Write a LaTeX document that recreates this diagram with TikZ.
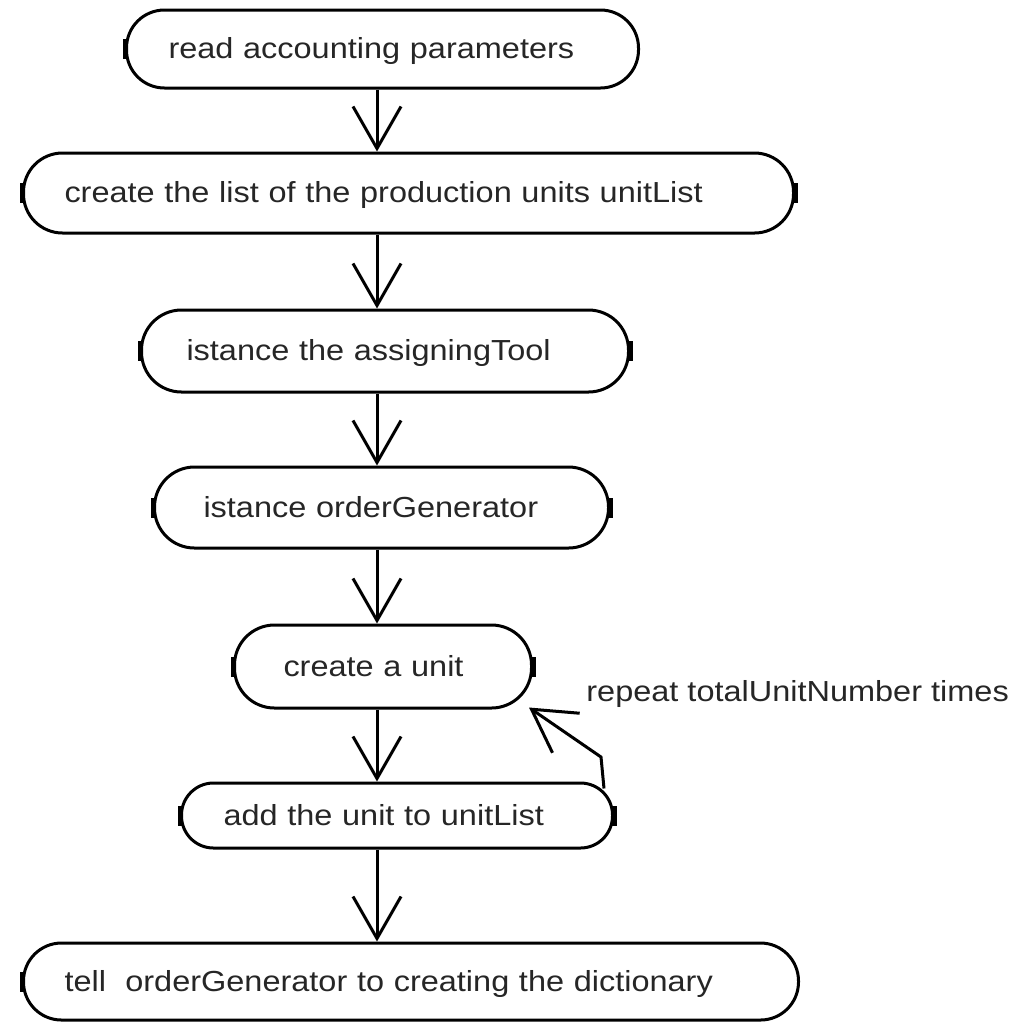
\documentclass[tikz,border=0pt]{standalone}
\usepackage{fontspec}
\setmainfont{Liberation Sans}[FakeStretch=1.12]
\usetikzlibrary{arrows.meta}
\begin{document}
\begin{tikzpicture}[x=1pt,y=-1pt,
  activity/.style={draw, line width=1.5pt, rectangle, align=left, inner ysep=0pt,
    text height=12pt, text depth=2.4pt,
    anchor=west, font=\fontsize{14.5}{17}\selectfont, text=black!85},
  flow/.style={line width=1.5pt, -{Straight Barb[length=21pt,width=24pt]}},
  edgemark/.style={fill=black},
  note/.style={anchor=west, inner sep=0pt, font=\fontsize{14.5}{17}\selectfont, text=black!85}]
\fill[white] (0,0) rectangle (516,512);
\useasboundingbox (0,0) rectangle (516,512);

% activities, top to bottom
\node[activity, text width=214pt, inner xsep=21pt, minimum height=39pt, rounded corners=19pt]
  (n1) at (62.5,24.5) {\mbox{read accounting parameters}};
\node[activity, text width=344pt, inner xsep=20.5pt, minimum height=40pt, rounded corners=19.5pt]
  (n2) at (11,96.5) {\mbox{create the list of the production units unitList}};
\node[activity, text width=198.5pt, inner xsep=22.5pt, minimum height=41pt, rounded corners=20pt]
  (n3) at (70,175.5) {\mbox{istance the assigningTool}};
\node[activity, text width=178pt, inner xsep=24.5pt, minimum height=40.5pt, rounded corners=20pt]
  (n4) at (76.5,253.75) {\mbox{istance orderGenerator}};
\node[activity, text width=99.5pt, inner xsep=24.5pt, minimum height=41.5pt, rounded corners=20pt]
  (n5) at (116.5,333.25) {\mbox{create a unit}};
\node[activity, text width=173.5pt, inner xsep=21pt, minimum height=32.5pt, rounded corners=16pt]
  (n6) at (90,407.75) {\mbox{add the unit to unitList}};
\node[activity, text width=346.5pt, inner xsep=20.5pt, minimum height=38.5pt, rounded corners=19pt]
  (n7) at (11,490.75) {\mbox{tell~~orderGenerator to creating the dictionary}};

% small thick ticks at the ends of the activities
\foreach \a in {n1.west,n2.west,n2.east,n3.west,n3.east,n4.west,n4.east,n5.west,n5.east,n6.west,n6.east,n7.west}
  \fill[edgemark] ([xshift=-1.25pt,yshift=-5pt]\a) rectangle ([xshift=1.25pt,yshift=5pt]\a);

% main flow
\coordinate (axis) at (188.5,0);
\draw[flow] (n1.south -| axis) -- (n2.north -| axis);
\draw[flow] (n2.south -| axis) -- (n3.north -| axis);
\draw[flow] (n3.south -| axis) -- (n4.north -| axis);
\draw[flow] (n4.south -| axis) -- (n5.north -| axis);
\draw[flow] (n5.south -| axis) -- (n6.north -| axis);
\draw[flow] (n6.south -| axis) -- (n7.north -| axis);

% loop back from "add the unit" to "create a unit"
\coordinate (bend) at (300.5,378.5);
\draw[flow] ([xshift=-5pt,yshift=-3.5pt]n6.north east) -- (bend)
  -- ([xshift=-2pt,yshift=1pt]n5.south east);
\node[note] (loopnote) at (293,347) {repeat totalUnitNumber times};
\end{tikzpicture}
\end{document}
